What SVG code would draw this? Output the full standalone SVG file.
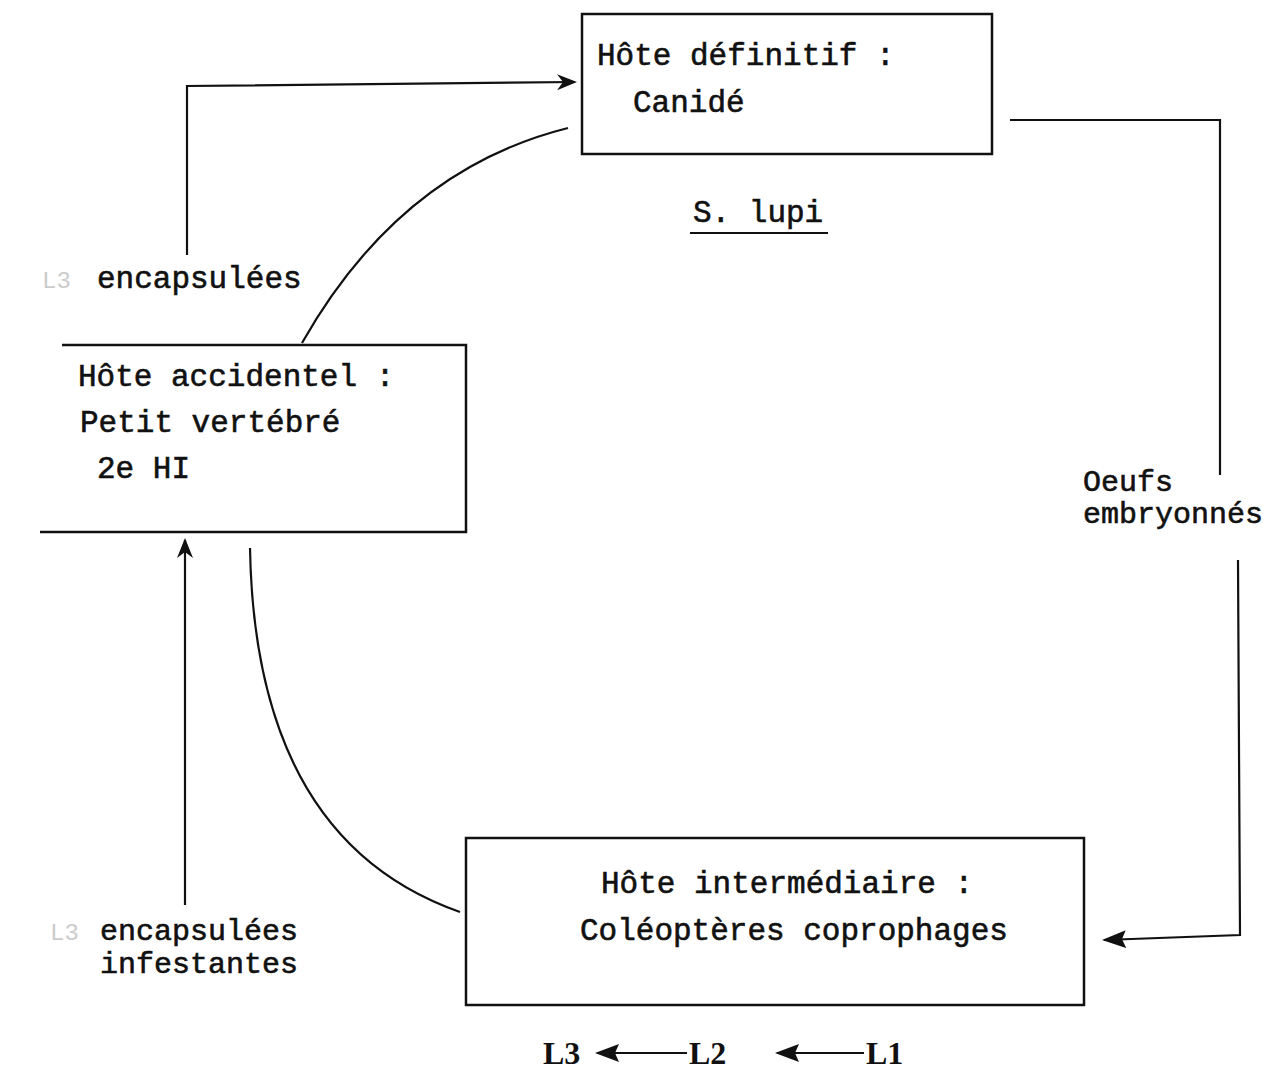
<svg xmlns="http://www.w3.org/2000/svg" width="1284" height="1075" viewBox="0 0 1284 1075">
<defs>
<style>
.t{font-family:"Liberation Mono","Courier New",monospace;font-size:31px;fill:#111;stroke:#111;stroke-width:0.6}
.s{font-size:30px}
.b{font-family:"Liberation Serif","Times New Roman",serif;font-size:32px;font-weight:bold;fill:#111}
.faint{font-family:"Liberation Mono",monospace;font-size:24px;fill:#ccc}
.box{fill:none;stroke:#111;stroke-width:2.5}
.ln{fill:none;stroke:#111;stroke-width:2.2}
</style>
<marker id="ah" viewBox="0 0 20 20" refX="18" refY="10" markerWidth="20" markerHeight="20" markerUnits="userSpaceOnUse" orient="auto">
<path d="M0,2 L20,10 L0,18 L6,10 Z" fill="#111"/>
</marker>
<marker id="ah2" viewBox="0 0 24 20" refX="22" refY="10" markerWidth="24" markerHeight="20" markerUnits="userSpaceOnUse" orient="auto">
<path d="M0,1 L24,10 L0,19 L4,10 Z" fill="#111"/>
</marker>
</defs>
<rect width="1284" height="1075" fill="#fff"/>

<g id="hote-definitif">
<rect class="box" x="582" y="14" width="410" height="140"/>
<text class="t" x="597" y="65">Hôte définitif :</text>
<text class="t" x="633" y="112">Canidé</text>
</g>

<g id="s-lupi">
<text class="t" x="693" y="222">S. lupi</text>
<line x1="690" y1="233" x2="828" y2="233" stroke="#111" stroke-width="2"/>
</g>

<g id="hote-accidentel">
<path class="box" d="M62,345 L466,345 L466,532 L40,532"/>
<text class="t" x="78" y="386">Hôte accidentel :</text>
<text class="t" x="80" y="432">Petit vertébré</text>
<text class="t" x="97" y="478">2e HI</text>
</g>

<g id="hote-intermediaire">
<rect class="box" x="466" y="838" width="618" height="167"/>
<text class="t" x="601" y="893">Hôte intermédiaire :</text>
<text class="t" x="580" y="940">Coléoptères coprophages</text>
</g>

<g id="labels">
<text class="faint" x="42" y="288">L3</text>
<text class="t" x="97" y="288">encapsulées</text>
<text class="faint" x="50" y="940">L3</text>
<text class="t s" x="100" y="940">encapsulées</text>
<text class="t s" x="100" y="973">infestantes</text>
<text class="t s" x="1083" y="491">Oeufs</text>
<text class="t s" x="1083" y="523">embryonnés</text>
<text class="b" x="543" y="1064">L3</text>
<text class="b" x="689" y="1064">L2</text>
<text class="b" x="866" y="1064">L1</text>
</g>

<g id="connectors">
<path class="ln" d="M187,255 L187,86 L575,82" marker-end="url(#ah)"/>
<path class="ln" d="M302,343 Q400,170 568,128"/>
<path class="ln" d="M185,905 L185,540" marker-end="url(#ah)"/>
<path class="ln" d="M250,548 Q255,840 460,912"/>
<path class="ln" d="M1010,120 L1220,120 L1220,475"/>
<path class="ln" d="M1238,560 L1240,935 L1104,940" marker-end="url(#ah2)"/>
<path class="ln" d="M687,1053 L597,1053" marker-end="url(#ah2)"/>
<path class="ln" d="M864,1053 L777,1053" marker-end="url(#ah2)"/>
</g>
</svg>
